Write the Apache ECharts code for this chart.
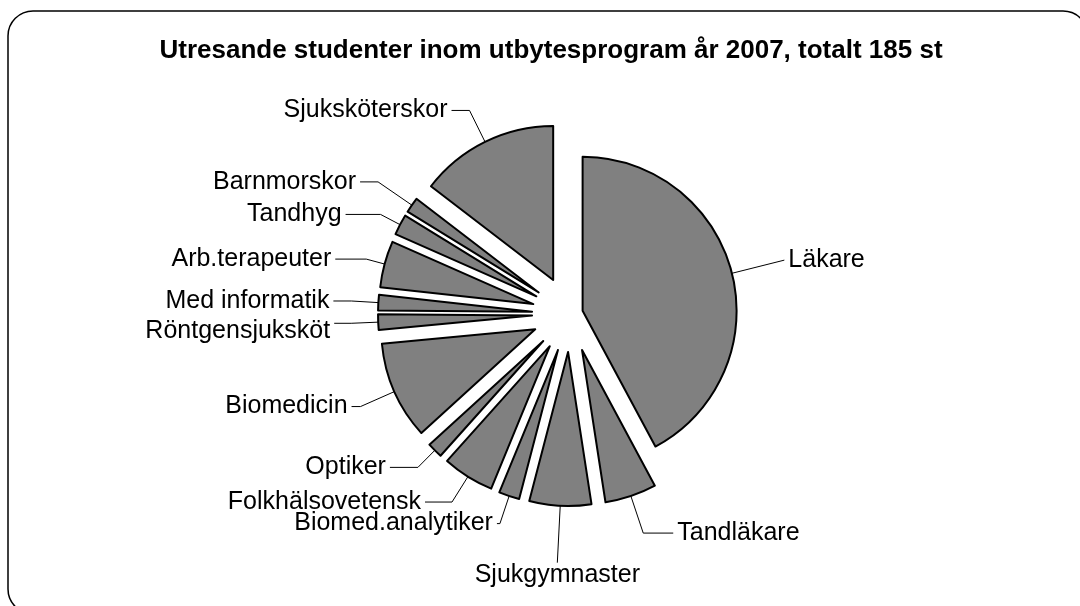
<!DOCTYPE html>
<html>
<head>
<meta charset="utf-8">
<script src="https://cdn.jsdelivr.net/npm/echarts@6/dist/echarts.min.js"></script>
<style>
html, body { margin: 0; padding: 0; background: #fff; }
#chart { width: 1080px; height: 606px; }
</style>
</head>
<body>
<div id="chart"></div>
<script>
var categories = ['Läkare', 'Tandläkare', 'Sjukgymnaster', 'Biomed.analytiker', 'Folkhälsovetensk', 'Optiker',
    'Biomedicin', 'Röntgensjuksköt', 'Med informatik', 'Arb.terapeuter', 'Tandhyg', 'Barnmorskor', 'Sjuksköterskor']
var students = [78, 10, 12, 4, 10, 3, 19, 3, 3, 9, 4, 3, 27]
var titleText = 'Utresande studenter inom utbytesprogram år 2007, totalt 185 st'

// leader line [length, length2] per slice, tuned by eye
var leaders = {
    'Läkare': [54, 0],
    'Tandläkare': [39, 30],
    'Sjukgymnaster': [57, 0],
    'Biomed.analytiker': [29, 3],
    'Folkhälsovetensk': [30, 27],
    'Optiker': [24, 28],
    'Biomedicin': [37, 9],
    'Röntgensjuksköt': [27, 17],
    'Med informatik': [27, 18],
    'Arb.terapeuter': [19, 31],
    'Tandhyg': [22, 35],
    'Barnmorskor': [41, 18],
    'Sjuksköterskor': [35, 18]
}

var font = "'Liberation Sans', Arial, sans-serif"
var gray = '#808080'

function sliceData(visible) {
    return categories.map(function (name, i) {
        var show = visible(name)
        var item = { name: name, value: students[i], selected: show }
        if (!show) {
            item.itemStyle = { color: 'rgba(0,0,0,0)', borderWidth: 0 }
            item.label = { show: false }
            item.labelLine = { show: false }
        } else {
            item.labelLine = { length: leaders[name][0], length2: leaders[name][1] }
            if (name == 'Sjukgymnaster') item.label = { distanceToLabelLine: 0 }
        }
        return item
    })
}

function pieSeries(offset, visible) {
    var slice = { color: gray, borderColor: '#000', borderWidth: 2 }
    return {
        type: 'pie',
        center: [570, 314],
        radius: [0, 154],
        startAngle: 90,
        clockwise: true,
        selectedMode: 'multiple',
        selectedOffset: offset,
        avoidLabelOverlap: false,
        animation: false,
        silent: true,
        itemStyle: slice,
        select: { itemStyle: slice },
        emphasis: { disabled: true },
        label: {
            show: true,
            position: 'outside',
            color: '#000',
            fontFamily: font,
            fontSize: 25,
            distanceToLabelLine: 4
        },
        labelLine: {
            show: true,
            lineStyle: { color: '#000', width: 1 }
        },
        labelLayout: function (params) {
            var name = categories[params.dataIndex]
            if (name == 'Sjukgymnaster') return { align: 'center', verticalAlign: 'top' }
            // nudge down so it clears Med informatik
            if (name == 'Röntgensjuksköt') return { dy: 8 }
            return {}
        },
        data: sliceData(visible)
    }
}

var chart = echarts.init(document.getElementById('chart'), null, { renderer: 'canvas' })
chart.setOption({
    animation: false,
    backgroundColor: '#fff',
    title: {
        text: titleText,
        left: 546,
        top: 33,
        textAlign: 'center',
        textStyle: { fontFamily: font, fontSize: 26, fontWeight: 'bold', color: '#000' }
    },
    graphic: [{
        type: 'rect',
        z: -10,
        shape: { x: 8, y: 11, width: 1080, height: 603, r: 25 },
        style: { fill: 'none', stroke: '#000', lineWidth: 1.5 }
    }],
    series: [
        // Läkare sits closer to the centre than the other slices
        pieSeries(38, function (name) { return name != 'Läkare' }),
        pieSeries(13, function (name) { return name == 'Läkare' })
    ]
})
</script>
</body>
</html>
